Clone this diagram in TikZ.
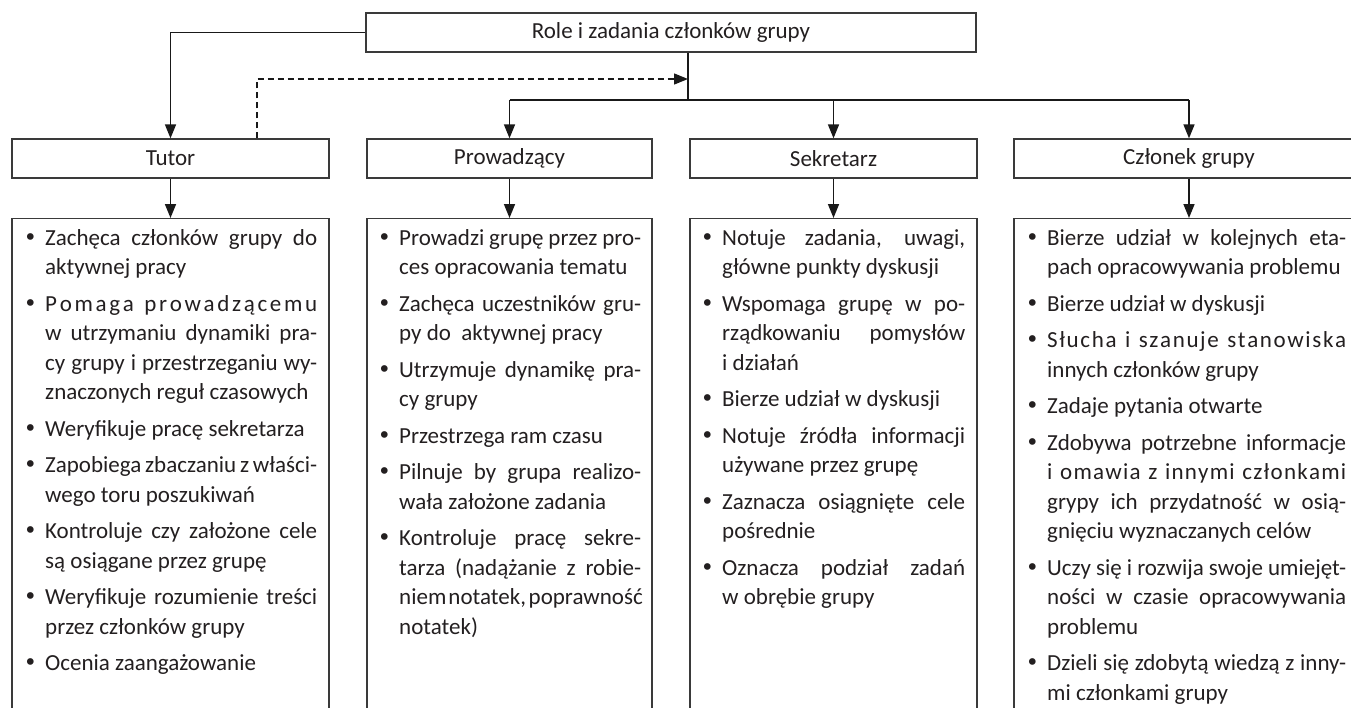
\documentclass[tikz,border=0pt]{standalone}
\usepackage{fontspec}
\setmainfont{Carlito}[WordSpace={1,1.5,1.8}]
\newfontfamily\bulfont{DejaVu Sans}
\usetikzlibrary{arrows.meta}
\definecolor{ink}{HTML}{231F20}
\definecolor{edge}{HTML}{3A3A3A}
\newcommand\jline[1]{\hbox to\hsize{#1}}
\newcommand\nline[1]{\hbox{#1}}
\newcommand\bul{\llap{{\bulfont •}\hskip 8pt}}
\newcommand\igap{\vskip 7pt}
\newcommand\colbox[2]{\vtop{\hsize=#1\relax\baselineskip=29.5pt\lineskiplimit=-50pt\lineskip=0pt #2}}
\begin{document}
\begin{tikzpicture}[x=1pt,y=-1pt,
  font=\fontsize{23}{28}\selectfont,
  box/.style={draw=edge, line width=1.3pt, inner sep=0pt, text=ink},
  conn/.style={draw=black!90, line width=1.6pt},
  arr/.style={conn, -{Triangle[length=14pt,width=11pt]}},
  darr/.style={conn, line width=1.4pt, dash pattern=on 6pt off 4pt, -{Triangle[length=14pt,width=11pt]}},
  txt/.style={anchor=base west, inner sep=0pt, text=ink}]
\useasboundingbox (0,0) rectangle (1351,707);

% headers
\node[box, minimum width=610pt, minimum height=39pt] (top) at (671,32.5) {Role i zadania członków grupy};
\node[box, minimum width=317pt, minimum height=39pt] (tut) at (170.5,158.5) {Tutor};
\node[box, minimum width=285pt, minimum height=39pt] (pro) at (509.5,158.5) {Prowadzący};
\node[box, minimum width=287pt, minimum height=39pt] (sek) at (833.5,158.5) {Sekretarz};
\node[box, minimum width=350pt, minimum height=39pt] (czl) at (1189,158.5) {Członek grupy};

% content boxes (open below the page edge)
\node[box, minimum width=317pt, minimum height=520pt, anchor=north] (tutc) at (170.5,218) {};
\node[box, minimum width=285pt, minimum height=520pt, anchor=north] (proc) at (509.5,218) {};
\node[box, minimum width=287pt, minimum height=520pt, anchor=north] (sekc) at (833.5,218) {};
\node[box, minimum width=350pt, minimum height=520pt, anchor=north] (czlc) at (1189,218) {};

% connectors
\coordinate (br) at (688,100);
\coordinate (ds) at (257,79);
\draw[arr] (top.west) -| (tut.north);
\draw[conn] (top.south -| br) -- (br);
\draw[conn] (pro.north |- br) -- (czl.north |- br);
\draw[arr] (pro.north |- br) -- (pro.north);
\draw[arr] (sek.north |- br) -- (sek.north);
\draw[arr] (czl.north |- br) -- (czl.north);
\draw[darr] (tut.north -| ds) -- (ds) -- (ds -| br);
\draw[arr] (tut.south) -- (tutc.north);
\draw[arr] (pro.south) -- (proc.north);
\draw[arr] (sek.south) -- (sekc.north);
\draw[arr] (czl.south) -- (czlc.north);

% texts
\node[txt] (tutt) at (45,245) {\colbox{272pt}{%
\jline{\bul Zachęca członków grupy do}
\nline{aktywnej pracy}\igap
\jline{\bul P\hfil o\hfil m\hfil a\hfil g\hfil a\hfil\ \hfil p\hfil r\hfil o\hfil w\hfil a\hfil d\hfil z\hfil ą\hfil c\hfil e\hfil m\hfil u}
\jline{w utrzymaniu dynamiki pra-}
\jline{cy grupy i przestrzeganiu wy-}
\nline{znaczonych reguł czasowych}\igap
\nline{\bul Weryfikuje pracę sekretarza}\igap
\jline{\bul Zapobiega zbaczaniu z właści-}
\nline{wego toru poszukiwań}\igap
\jline{\bul Kontroluje czy założone cele}
\nline{są osiągane przez grupę}\igap
\jline{\bul Weryfikuje rozumienie treści}
\nline{przez członków grupy}\igap
\nline{\bul Ocenia zaangażowanie}}};

\node[txt] (prot) at (399,245) {\colbox{242pt}{%
\jline{\bul Prowadzi grupę przez pro-}
\nline{ces opracowania tematu}\igap
\jline{\bul Zachęca uczestników gru-}
\nline{py do\ \ aktywnej pracy}\igap
\jline{\bul Utrzymuje dynamikę pra-}
\nline{cy grupy}\igap
\nline{\bul Przestrzega ram czasu}\igap
\jline{\bul Pilnuje by grupa realizo-}
\nline{wała założone zadania}\igap
\jline{\bul Kontroluje pracę sekre-}
\jline{tarza (nadążanie z robie-}
\jline{niem notatek, poprawność}
\nline{notatek)}}};

\node[txt] (sekt) at (722,245) {\colbox{243pt}{%
\jline{\bul Notuje zadania, uwagi,}
\nline{główne punkty dyskusji}\igap
\jline{\bul Wspomaga grupę w po-}
\jline{rządkowaniu pomysłów}
\nline{i działań}\igap
\nline{\bul Bierze udział w dyskusji}\igap
\jline{\bul Notuje źródła informacji}
\nline{używane przez grupę}\igap
\jline{\bul Zaznacza osiągnięte cele}
\nline{pośrednie}\igap
\jline{\bul Oznacza podział zadań}
\nline{w obrębie grupy}}};

\node[txt] (czlt) at (1047,245) {\colbox{299pt}{%
\jline{\bul Bierze udział w kolejnych eta-}
\nline{pach opracowywania problemu}\igap
\nline{\bul Bierze udział w dyskusji}\igap
\jline{\bul S\hfil ł\hfil u\hfil c\hfil h\hfil a\hfil\ \hfil i\hfil\ \hfil s\hfil z\hfil a\hfil n\hfil u\hfil j\hfil e\hfil\ \hfil s\hfil t\hfil a\hfil n\hfil o\hfil w\hfil i\hfil s\hfil k\hfil a}
\nline{innych członków grupy}\igap
\nline{\bul Zadaje pytania otwarte}\igap
\jline{\bul Zdobywa potrzebne informacje}
\jline{i\hfil\ \hfil o\hfil m\hfil a\hfil w\hfil i\hfil a\hfil\ \hfil z\hfil\ \hfil i\hfil n\hfil n\hfil y\hfil m\hfil i\hfil\ \hfil c\hfil z\hfil ł\hfil o\hfil n\hfil k\hfil a\hfil m\hfil i}
\jline{grypy ich przydatność w osią-}
\nline{gnięciu wyznaczanych celów}\igap
\jline{\bul Uczy się i rozwija swoje umiejęt-}
\jline{ności w czasie opracowywania}
\nline{problemu}\igap
\jline{\bul Dzieli się zdobytą wiedzą z inny-}
\nline{mi członkami grupy}}};
\end{tikzpicture}
\end{document}
